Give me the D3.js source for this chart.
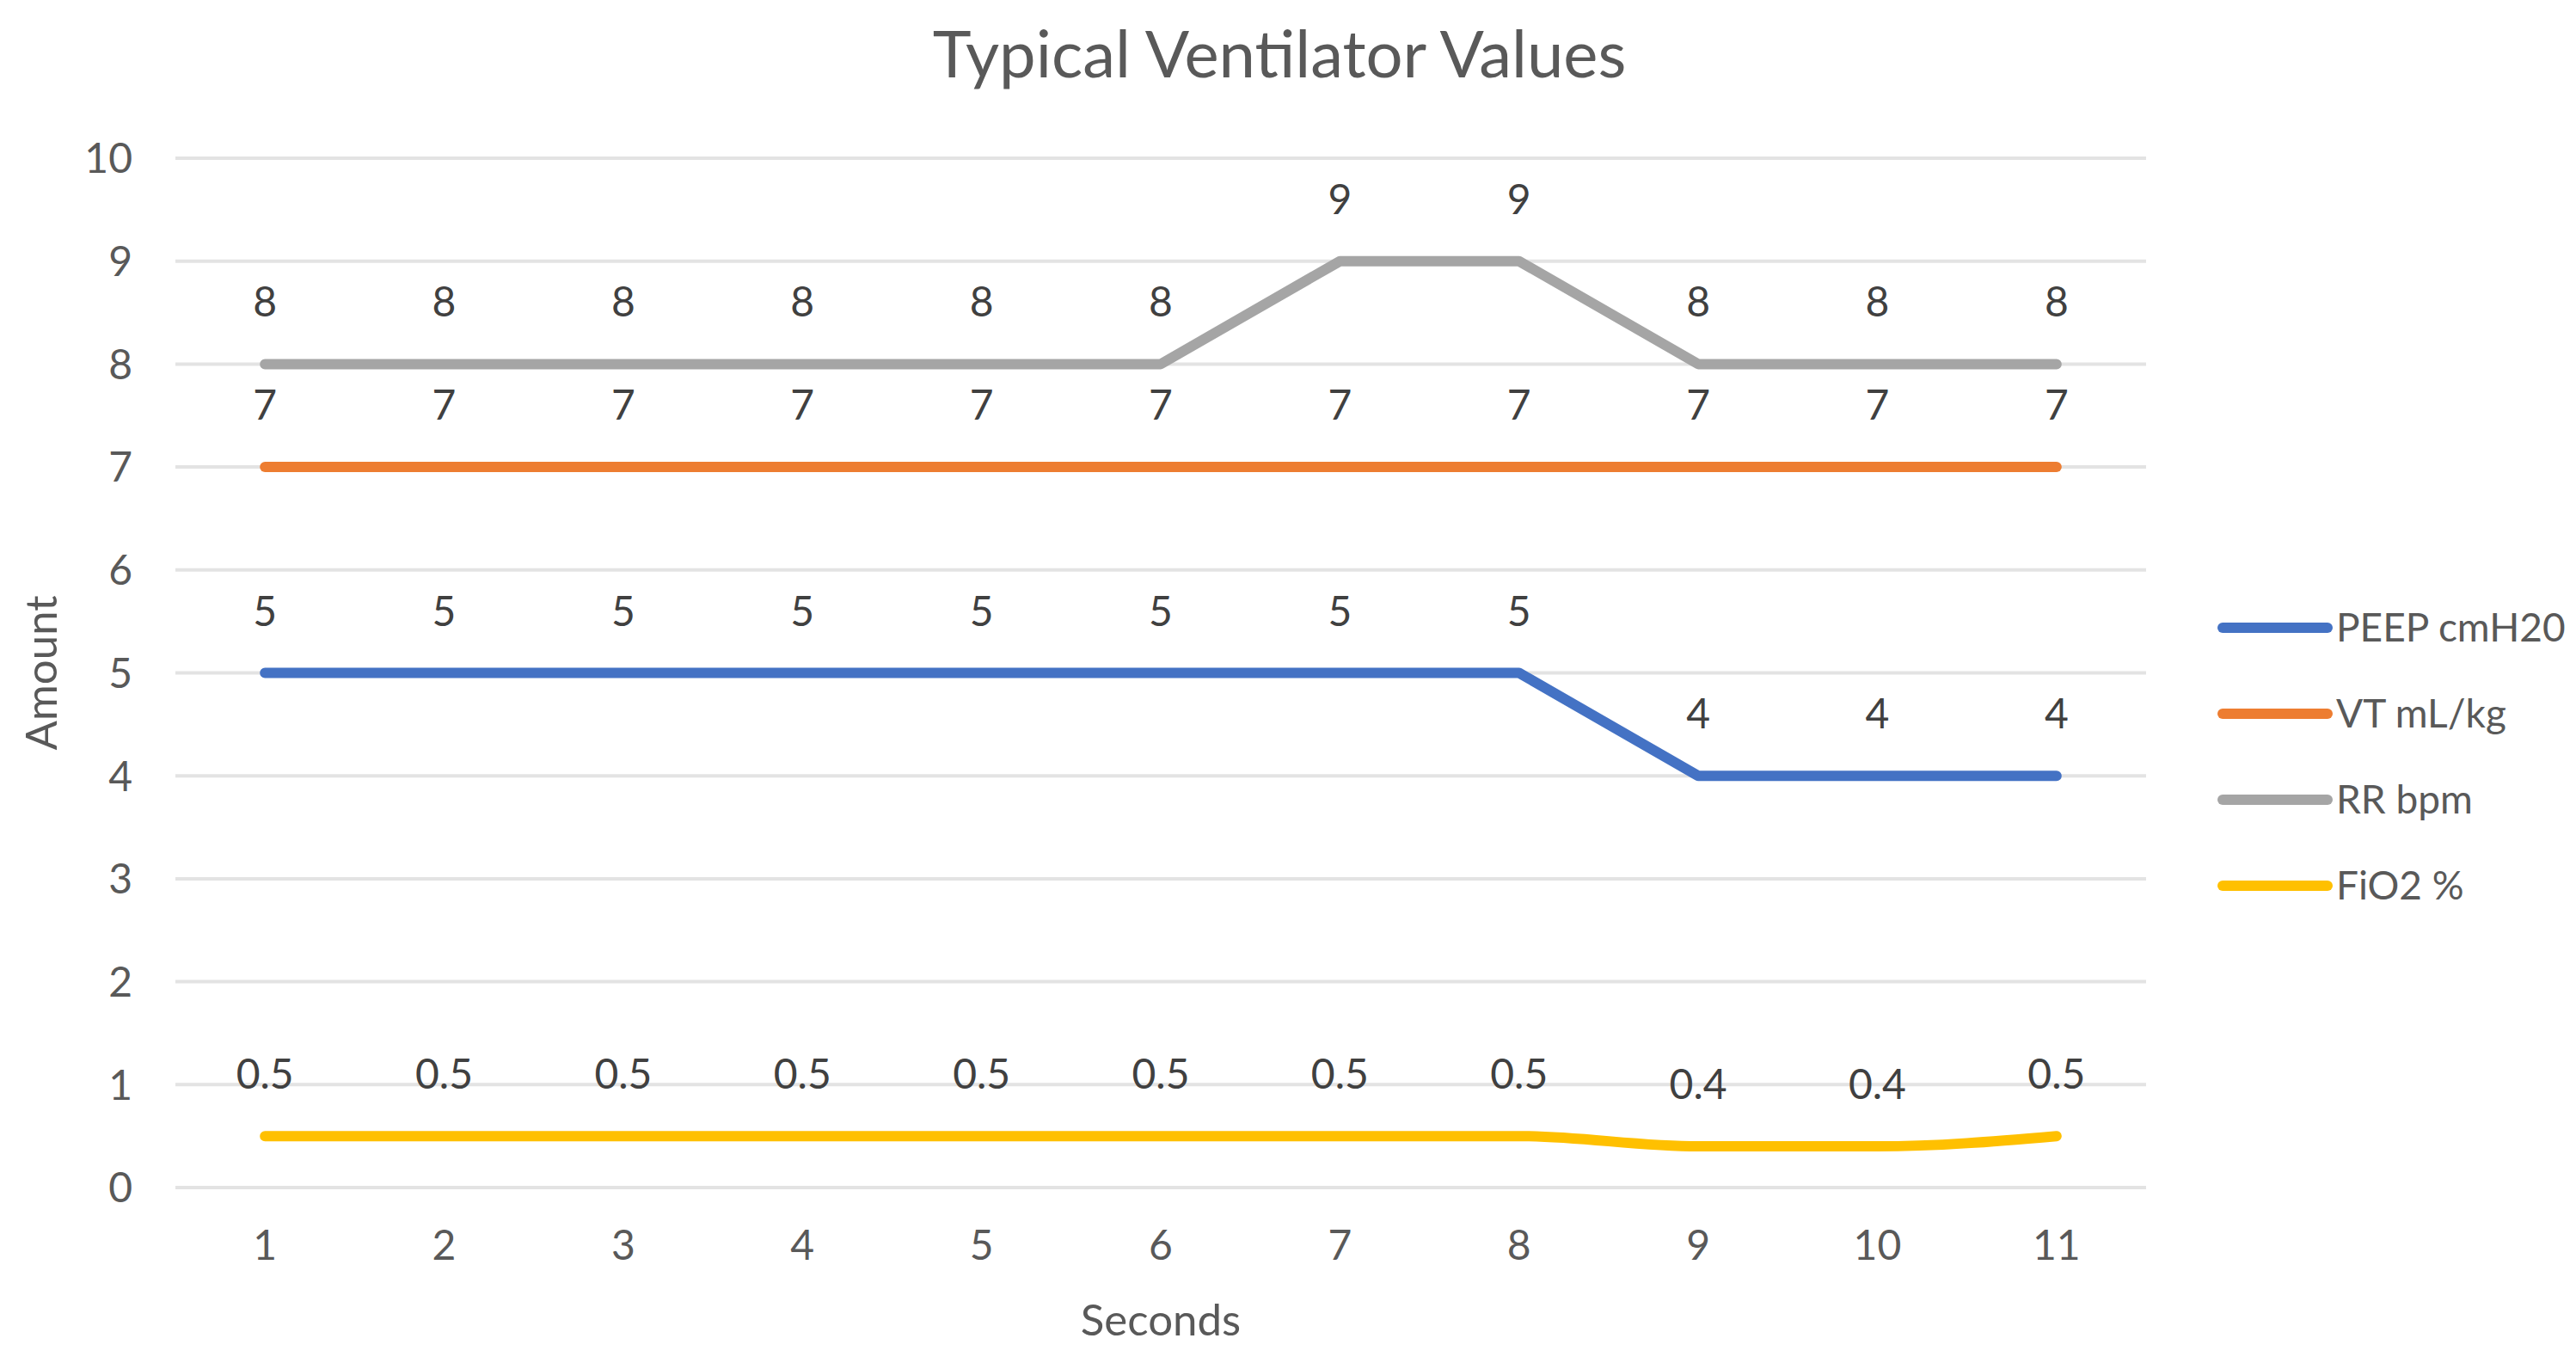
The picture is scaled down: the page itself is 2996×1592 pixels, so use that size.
<!DOCTYPE html>
<html>
<head>
<meta charset="utf-8">
<script src="https://cdn.jsdelivr.net/npm/d3@7"></script>
<style>
  html, body { margin: 0; padding: 0; background: #fff; }
  svg { display: block; font-family: Lato, "Open Sans", sans-serif; }
</style>
</head>
<body>
<svg id="chart" width="2996" height="1592"></svg>
<script>
var seconds = [1, 2, 3, 4, 5, 6, 7, 8, 9, 10, 11];
var peep = [5, 5, 5, 5, 5, 5, 5, 5, 4, 4, 4];
var vt = [7, 7, 7, 7, 7, 7, 7, 7, 7, 7, 7];
var rr = [8, 8, 8, 8, 8, 8, 9, 9, 8, 8, 8];
var fio2 = [0.5, 0.5, 0.5, 0.5, 0.5, 0.5, 0.5, 0.5, 0.4, 0.4, 0.5];
var yTicks = [0, 1, 2, 3, 4, 5, 6, 7, 8, 9, 10];

var series = [
  {name: "PEEP cmH20", values: peep, color: "#4472C4", smooth: false},
  {name: "VT mL/kg", values: vt, color: "#ED7D31", smooth: false},
  {name: "RR bpm", values: rr, color: "#A5A5A5", smooth: false},
  {name: "FiO2 %", values: fio2, color: "#FFC000", smooth: true}
];

var svg = d3.select("#chart");
var plot = {left: 204, right: 2496, top: 184, bottom: 1381};

var x = d3.scaleBand().domain(seconds).range([plot.left, plot.right]);
var y = d3.scaleLinear().domain([0, 10]).range([plot.bottom, plot.top]);
var cx = function(d) { return x(d) + x.bandwidth() / 2; };

// title
svg.append("text")
  .attr("x", 1488).attr("y", 90)
  .attr("text-anchor", "middle")
  .attr("font-size", 76)
  .attr("fill", "#595959")
  .text("Typical Ventilator Values");

// gridlines
svg.append("g").selectAll("line")
  .data(yTicks).enter().append("line")
    .attr("x1", plot.left).attr("x2", plot.right)
    .attr("y1", function(d) { return y(d); })
    .attr("y2", function(d) { return y(d); })
    .attr("stroke", "#e3e3e3")
    .attr("stroke-width", 4);

// y axis
var yAxis = svg.append("g")
  .attr("transform", "translate(" + (plot.left - 50) + ",0)")
  .call(d3.axisLeft(y).tickValues(yTicks).tickSize(0).tickPadding(0));
yAxis.select(".domain").remove();
yAxis.selectAll("text")
  .attr("font-size", 48)
  .attr("font-family", "Lato, sans-serif")
  .attr("fill", "#595959")
  .attr("dy", "0.35em");

// x axis
var xAxis = svg.append("g")
  .attr("transform", "translate(0," + plot.bottom + ")")
  .call(d3.axisBottom(x).tickSize(0).tickPadding(0));
xAxis.select(".domain").remove();
xAxis.selectAll("text")
  .attr("font-size", 48)
  .attr("font-family", "Lato, sans-serif")
  .attr("fill", "#595959")
  .attr("y", 84)
  .attr("dy", 0);

// axis titles
svg.append("text")
  .attr("x", (plot.left + plot.right) / 2).attr("y", 1553)
  .attr("text-anchor", "middle")
  .attr("font-size", 51)
  .attr("fill", "#595959")
  .text("Seconds");

svg.append("text")
  .attr("transform", "translate(66," + ((plot.top + plot.bottom) / 2) + ") rotate(-90)")
  .attr("text-anchor", "middle")
  .attr("font-size", 51)
  .attr("fill", "#595959")
  .text("Amount");

// lines
series.forEach(function(s) {
  var line = d3.line()
    .x(function(d, i) { return cx(seconds[i]); })
    .y(function(d) { return y(d); })
    .curve(s.smooth ? d3.curveMonotoneX : d3.curveLinear);

  svg.append("path")
    .datum(s.values)
    .attr("d", line)
    .attr("fill", "none")
    .attr("stroke", s.color)
    .attr("stroke-width", 12)
    .attr("stroke-linejoin", "round")
    .attr("stroke-linecap", "round");
});

// data labels
series.forEach(function(s) {
  svg.append("g").selectAll("text")
    .data(s.values).enter().append("text")
      .attr("x", function(d, i) { return cx(seconds[i]); })
      .attr("y", function(d) { return y(d) - 55; })
      .attr("text-anchor", "middle")
      .attr("font-size", 48)
      .attr("fill", "#404040")
      .text(function(d) { return d; });
});

// legend
var legend = svg.append("g").selectAll("g")
  .data(series).enter().append("g")
    .attr("transform", function(d, i) { return "translate(2585," + (730 + i * 100) + ")"; });
legend.append("line")
  .attr("x1", 0).attr("x2", 122)
  .attr("stroke", function(d) { return d.color; })
  .attr("stroke-width", 12)
  .attr("stroke-linecap", "round");
legend.append("text")
  .attr("x", 132).attr("dy", "0.35em")
  .attr("font-size", 46)
  .attr("fill", "#595959")
  .text(function(d) { return d.name; });
</script>
</body>
</html>
